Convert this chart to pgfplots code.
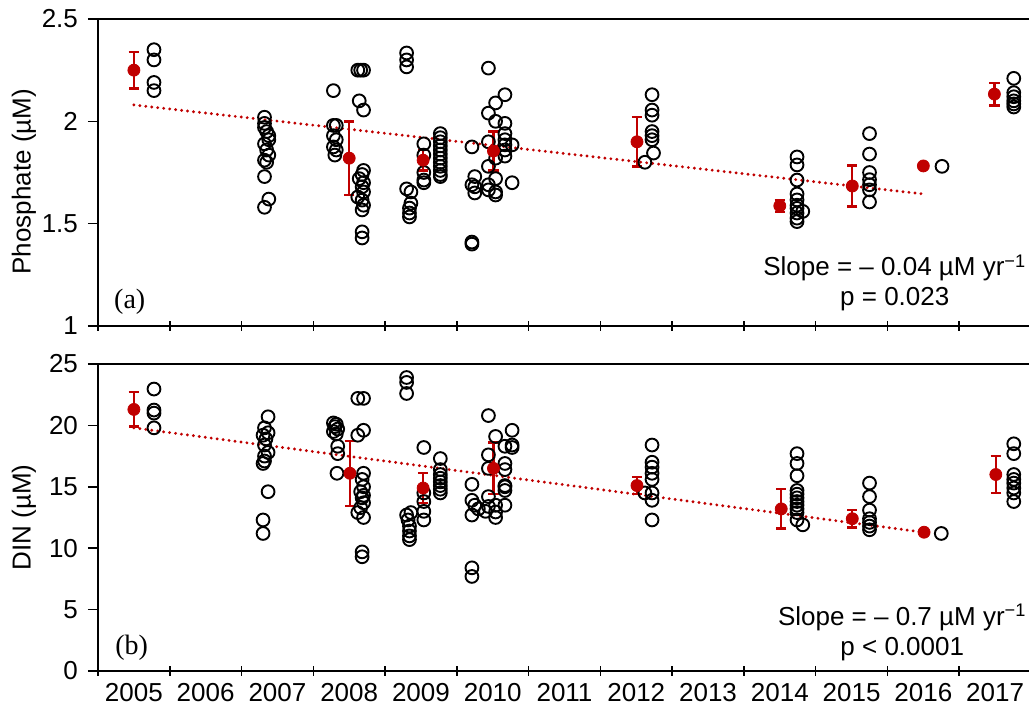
\documentclass[border=0pt]{standalone}
\usepackage{fontspec}
\setmainfont{Liberation Sans}
\newfontfamily\seriffont{Liberation Serif}
\usepackage{pgfplots}
\pgfplotsset{compat=1.18}
\definecolor{dred}{RGB}{192,0,0}
\newcommand{\fs}{\fontsize{13pt}{15pt}\selectfont}

\pgfplotstableread{
x y
0.78 2.35
0.78 2.30
0.78 2.19
0.78 2.15
2.32 2.02
2.32 1.99
2.32 1.97
2.35 1.95
2.38 1.93
2.38 1.91
2.32 1.89
2.35 1.86
2.38 1.835
2.32 1.81
2.35 1.80
2.32 1.73
2.38 1.62
2.32 1.58
3.28 2.15
3.28 1.98
3.32 1.98
3.28 1.93
3.32 1.91
3.28 1.875
3.32 1.86
3.30 1.835
3.62 2.25
3.66 2.25
3.70 2.25
3.64 2.10
3.70 2.055
3.70 1.76
3.68 1.74
3.64 1.72
3.70 1.70
3.68 1.68
3.70 1.655
3.62 1.63
3.68 1.615
3.70 1.59
3.68 1.567
3.68 1.46
3.68 1.43
4.30 2.334
4.30 2.30
4.30 2.266
4.30 1.67
4.36 1.655
4.36 1.60
4.34 1.576
4.34 1.552
4.34 1.533
4.54 1.89
4.54 1.835
4.54 1.75
4.54 1.713
4.54 1.70
4.77 1.94
4.77 1.92
4.77 1.90
4.77 1.88
4.77 1.86
4.77 1.84
4.77 1.82
4.77 1.80
4.77 1.78
4.77 1.76
4.77 1.74
4.77 1.73
5.21 1.875
5.21 1.69
5.21 1.41
5.21 1.40
5.25 1.73
5.25 1.68
5.25 1.65
5.44 2.26
5.44 2.04
5.44 1.90
5.44 1.78
5.44 1.69
5.44 1.665
5.54 2.09
5.54 2.00
5.54 1.82
5.54 1.72
5.54 1.655
5.54 1.64
5.67 2.13
5.67 1.99
5.67 1.94
5.67 1.91
5.67 1.885
5.67 1.86
5.67 1.83
5.77 1.885
5.77 1.70
7.72 2.13
7.72 2.055
7.72 2.03
7.72 1.95
7.72 1.93
7.72 1.91
7.74 1.845
7.62 1.80
9.74 1.826
9.74 1.787
9.74 1.713
9.74 1.645
9.74 1.616
9.74 1.59
9.74 1.575
9.74 1.552
9.74 1.527
9.74 1.51
9.82 1.56
10.75 1.94
10.75 1.84
10.75 1.75
10.75 1.715
10.75 1.69
10.75 1.665
10.75 1.606
11.76 1.78
12.76 2.21
12.76 2.14
12.76 2.12
12.76 2.10
12.76 2.085
12.76 2.07
}\phosobs

\pgfplotstableread{
x y e
0.5 2.25 0.09
3.5 1.82 0.18
4.53 1.81 0.05
5.51 1.855 0.095
7.51 1.90 0.12
9.50 1.587 0.03
10.51 1.684 0.10
11.50 1.782 0
12.49 2.133 0.055
}\phosmean

\pgfplotstableread{
x y
0.78 22.96
0.78 21.25
0.78 21.0
0.78 19.8
2.37 20.7
2.32 19.8
2.37 19.4
2.30 19.2
2.34 18.9
2.32 18.4
2.37 17.8
2.32 17.5
2.32 17.1
2.30 16.9
2.37 14.6
2.30 12.3
2.30 11.2
3.28 20.2
3.32 20.1
3.30 19.9
3.34 19.7
3.28 19.5
3.32 19.3
3.34 18.3
3.34 17.7
3.33 16.1
3.62 22.2
3.70 22.2
3.70 19.6
3.62 19.2
3.70 16.1
3.68 15.6
3.70 15.0
3.66 14.6
3.70 14.3
3.68 14.1
3.70 13.7
3.66 13.3
3.62 12.9
3.70 12.5
3.68 9.7
3.68 9.3
4.30 23.9
4.30 23.5
4.30 22.6
4.30 12.7
4.36 12.9
4.32 12.3
4.34 11.8
4.34 11.4
4.34 11.0
4.34 10.7
4.54 18.2
4.54 14.5
4.54 13.8
4.54 13.0
4.54 12.3
4.77 17.3
4.77 16.4
4.77 16.0
4.77 15.7
4.77 15.4
4.77 15.1
4.77 14.8
4.77 14.5
5.21 15.2
5.21 13.9
5.21 12.7
5.21 8.4
5.21 7.7
5.25 13.5
5.30 13.2
5.44 20.8
5.44 17.6
5.44 16.5
5.44 14.2
5.44 13.4
5.40 13.0
5.54 19.1
5.54 13.5
5.54 12.95
5.54 12.5
5.67 18.3
5.67 16.9
5.67 16.4
5.67 15.1
5.67 15.0
5.67 14.7
5.67 13.5
5.77 19.6
5.77 18.4
5.77 18.2
7.72 18.4
7.72 17.0
7.72 16.6
7.72 16.1
7.72 15.6
7.72 14.5
7.62 14.5
7.72 13.9
7.72 12.3
9.74 17.7
9.74 16.9
9.74 15.9
9.74 14.7
9.74 14.4
9.74 14.1
9.74 13.8
9.74 13.5
9.74 13.2
9.74 12.9
9.74 12.3
9.82 11.9
10.75 15.3
10.75 14.2
10.75 13.1
10.75 12.4
10.75 12.1
10.75 11.8
10.75 11.5
11.75 11.2
12.76 18.5
12.76 17.7
12.76 16.0
12.76 15.6
12.76 15.3
12.76 14.9
12.76 14.5
12.76 13.8
}\dinobs

\pgfplotstableread{
x y e
0.5 21.3 1.4
3.51 16.1 2.65
4.53 14.9 1.2
5.51 16.5 2.1
7.51 15.1 0.7
9.52 13.2 1.6
10.51 12.4 0.7
11.51 11.3 0
12.51 16.0 1.5
}\dinmean

\pgfplotsset{
  panel/.style={
    scale only axis, width=466.5pt, height=153.5pt,
    xmin=0, xmax=13,
    xtick={0,...,13},
    tick pos=left,
    tick align=center, major tick length=5pt,
    y tick style={xshift=-2.5pt},
    every tick/.style={black, line width=0.75pt},
    axis line style={line width=0.75pt},
    tick label style={font=\fs},
    yticklabel style={xshift=-4pt},
    label style={font=\fs},
    /pgf/number format/assume math mode=true,
  },
  obs/.style={only marks, mark=o, black, mark size=3.2pt, mark options={line width=0.95pt}},
  means/.style={only marks, mark=*, dred, mark size=3pt,
    error bars/.cd, y dir=both, y explicit,
    error bar style={line width=1.2pt, dred},
    error mark options={rotate=90, mark size=2.6pt, line width=1.2pt, dred}},
  trend/.style={dred, line width=1.6pt, dash pattern=on 0pt off 3pt, line cap=round},
}

\begin{document}
\begin{tikzpicture}
\begin{axis}[panel, at={(0pt,172.5pt)}, anchor=south west,
  ymin=1, ymax=2.5, ytick={1,1.5,2,2.5},
  xticklabels={},
  ylabel={Phosphate (µM)},
  ylabel style={at={([xshift=-37pt]rel axis cs:0,0.47)}, anchor=center},
]
\addplot[obs] table[x=x,y=y] {\phosobs};
\addplot[trend] coordinates {(0.5,2.08) (11.5,1.645)};
\addplot[means] table[x=x,y=y,y error=e] {\phosmean};
\node[font=\seriffont\fontsize{14pt}{16pt}\selectfont] at (rel axis cs:0.034,0.078) {(a)};
\node[align=center, font=\fs] at (rel axis cs:0.854,0.14) {Slope = – 0.04 µM yr\textsuperscript{−1}\\p = 0.023};
\end{axis}
\begin{axis}[panel, at={(0pt,0pt)}, anchor=south west,
  ymin=0, ymax=25, ytick={0,5,...,25},
  x tick label as interval,
  xticklabels={2005,2006,2007,2008,2009,2010,2011,2012,2013,2014,2015,2016,2017},
  ylabel={DIN (µM)},
  ylabel style={at={([xshift=-37pt]rel axis cs:0,0.5)}, anchor=center},
]
\addplot[obs] table[x=x,y=y] {\dinobs};
\addplot[trend] coordinates {(0.5,19.8) (11.5,11.3)};
\addplot[means] table[x=x,y=y,y error=e] {\dinmean};
\node[font=\seriffont\fontsize{14pt}{16pt}\selectfont] at (rel axis cs:0.036,0.075) {(b)};
\node[align=center, font=\fs] at (rel axis cs:0.862,0.125) {Slope = – 0.7 µM yr\textsuperscript{−1}\\p < 0.0001};
\end{axis}
\pgfresetboundingbox
\path[use as bounding box] (-49pt,-20pt) rectangle (465.5pt,335.5pt);
\end{tikzpicture}
\end{document}
